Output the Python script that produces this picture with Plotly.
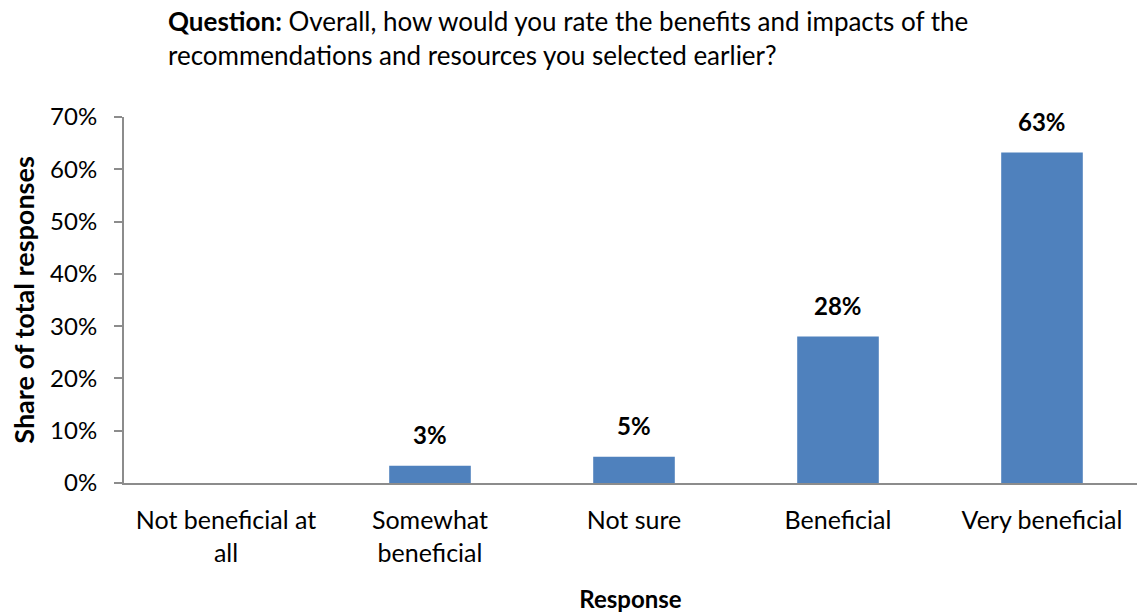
import plotly.graph_objects as go

categories = ["Not beneficial at<br>all", "Somewhat<br>beneficial", "Not sure", "Beneficial", "Very beneficial"]
values = [0, 3.3, 5.0, 28.0, 63.2]
labels = ["", "3%", "5%", "28%", "63%"]
y_ticks = [0, 10, 20, 30, 40, 50, 60, 70]
y_tick_text = ["0%", "10%", "20%", "30%", "40%", "50%", "60%", "70%"]

FONT = "Lato, 'Noto Sans', sans-serif"
W, H = 1137, 614
L, R, T, B = 124, 0, 117, 131
band = 204.0
plot_w = W - L - R
x_end = -0.5 + plot_w / band

fig = go.Figure(go.Bar(
    x=list(range(len(categories))), y=values,
    marker=dict(color="#4F81BD", line=dict(width=0)),
    width=0.4, hoverinfo="skip",
))

for i, (v, t) in enumerate(zip(values, labels)):
    if t:
        fig.add_annotation(x=i, y=v, text=f"<b>{t}</b>", showarrow=False,
                           yanchor="bottom", yshift=15,
                           font=dict(family=FONT, size=24, color="#000000"))

fig.add_annotation(xref="paper", yref="paper", x=(166 - L) / plot_w, y=1 + (117 - 3) / (H - T - B),
                   xanchor="left", yanchor="top", align="left", showarrow=False,
                   text="<b>Question:</b> Overall, how would you rate the benefits and impacts of the<br>recommendations and resources you selected earlier?",
                   font=dict(family=FONT, size=26, color="#000000"))

fig.update_layout(
    width=W, height=H,
    margin=dict(l=L, r=R, t=T, b=B),
    plot_bgcolor="white", paper_bgcolor="white",
    showlegend=False,
    font=dict(family=FONT, size=24, color="#000000"),
    xaxis=dict(
        range=[-0.5, x_end], tickmode="array",
        tickvals=list(range(len(categories))), ticktext=categories,
        showline=True, linecolor="#8C8C8C", linewidth=2,
        showgrid=False, zeroline=False, ticks="",
        ticklabelstandoff=14, tickfont=dict(family=FONT, size=25),
        title=dict(text="<b>Response</b>", font=dict(family=FONT, size=24), standoff=26),
        fixedrange=True,
    ),
    yaxis=dict(
        range=[0, 70], tickmode="array", tickvals=y_ticks, ticktext=y_tick_text,
        showline=True, linecolor="#8C8C8C", linewidth=2,
        showgrid=False, zeroline=False,
        ticks="outside", ticklen=8, tickcolor="#8C8C8C", tickwidth=2,
        ticklabelstandoff=12, tickfont=dict(family=FONT, size=24),
        title=dict(text="<b>Share of total responses</b>", font=dict(family=FONT, size=27), standoff=8),
        fixedrange=True,
    ),
)

fig.write_html("out.html")
